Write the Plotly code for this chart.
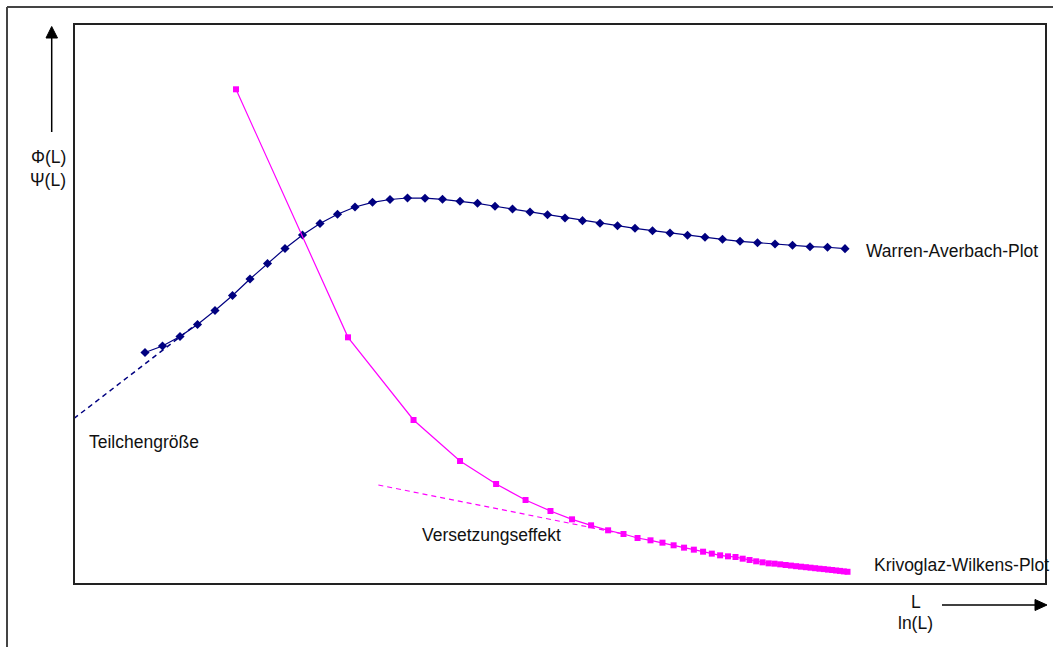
import numpy as np
import plotly.graph_objects as go

# ---------------- data ----------------
# Warren-Averbach plot: Phi(L) over L (linear x)
wa_L = list(range(1, 42))
wa_phi = [4.134, 4.250, 4.420, 4.634, 4.884, 5.152, 5.446, 5.723, 5.991, 6.232,
          6.438, 6.602, 6.732, 6.816, 6.866, 6.893, 6.889, 6.870, 6.834, 6.798,
          6.745, 6.696, 6.643, 6.595, 6.536, 6.488, 6.441, 6.398, 6.352, 6.309,
          6.268, 6.227, 6.191, 6.155, 6.120, 6.095, 6.071, 6.048, 6.023, 6.013,
          5.988]

# Krivoglaz-Wilkens plot: Psi(L) over ln(L)
kw_L = list(range(1, 45))
kw_psi = [8.834, 4.405, 2.929, 2.196, 1.786, 1.500, 1.304, 1.155, 1.048, 0.959,
          0.893, 0.821, 0.780, 0.738, 0.691, 0.649, 0.613, 0.577, 0.542, 0.512,
          0.494, 0.482, 0.452, 0.429, 0.405, 0.387, 0.369, 0.363, 0.351, 0.339,
          0.329, 0.318, 0.309, 0.300, 0.291, 0.282, 0.273, 0.266, 0.257, 0.250,
          0.241, 0.234, 0.225, 0.218]

# tangent lines
tg_size_x = [-3.06, 4.14]      # Teilchengroesse (in L)
tg_size_y = [2.955, 4.688]
tg_disl_x = [0.881, 2.407]     # Versetzungseffekt (in ln L)
tg_disl_y = [1.768, 0.888]

# ---------------- layout helpers ----------------
W, H = 1053, 647
ML, MR, MT, MB = 74, 7, 24, 63
PW, PH = W - ML - MR, H - MT - MB


def px(x):
    return (x - ML) / PW


def py(y):
    return (H - MB - y) / PH


NAVY = "#000080"
MAG = "#FF00FF"
FONT = "Liberation Sans, Arial, sans-serif"

fig = go.Figure()

fig.add_trace(go.Scatter(x=tg_size_x, y=tg_size_y, mode="lines",
                         line=dict(color=NAVY, width=1.5, dash="5px,4px"),
                         xaxis="x", yaxis="y", hoverinfo="skip"))
fig.add_trace(go.Scatter(x=tg_disl_x, y=tg_disl_y, mode="lines",
                         line=dict(color=MAG, width=1.2, dash="5px,4px"),
                         xaxis="x2", yaxis="y", hoverinfo="skip"))

fig.add_trace(go.Scatter(x=wa_L, y=wa_phi, mode="lines+markers",
                         line=dict(color=NAVY, width=1.2),
                         marker=dict(symbol="diamond", size=7, color=NAVY),
                         xaxis="x", yaxis="y", name="Warren-Averbach-Plot"))
fig.add_trace(go.Scatter(x=np.log(kw_L), y=kw_psi, mode="lines+markers",
                         line=dict(color=MAG, width=1.2),
                         marker=dict(symbol="square", size=6, color=MAG),
                         xaxis="x2", yaxis="y", name="Krivoglaz-Wilkens-Plot"))

shapes = [
    # plot frame
    dict(type="rect", xref="paper", yref="paper", x0=0, y0=0, x1=1, y1=1,
         line=dict(color="#222222", width=2)),
    # outer frame (left & top)
    dict(type="line", xref="paper", yref="paper", x0=px(7), x1=px(7),
         y0=py(7), y1=py(660), line=dict(color="#444444", width=2)),
    dict(type="line", xref="paper", yref="paper", x0=px(7), x1=px(1060),
         y0=py(7), y1=py(7), line=dict(color="#444444", width=2)),
    # y arrow
    dict(type="line", xref="paper", yref="paper", x0=px(51.7), x1=px(51.7),
         y0=py(132), y1=py(37), line=dict(color="black", width=1.5)),
    dict(type="path", xref="paper", yref="paper",
         path=f"M {px(46)} {py(38)} L {px(57.5)} {py(38)} L {px(51.7)} {py(26.5)} Z",
         fillcolor="black", line=dict(color="black", width=1)),
    # x arrow
    dict(type="line", xref="paper", yref="paper", x0=px(942), x1=px(1036),
         y0=py(605), y1=py(605), line=dict(color="black", width=1.5)),
    dict(type="path", xref="paper", yref="paper",
         path=f"M {px(1035)} {py(599.5)} L {px(1035)} {py(610.5)} L {px(1047)} {py(605)} Z",
         fillcolor="black", line=dict(color="black", width=1)),
]


def label(text, x, y, xanchor="left"):
    return dict(text=text, xref="paper", yref="paper", x=px(x), y=py(y),
                xanchor=xanchor, yanchor="middle", showarrow=False,
                font=dict(family=FONT, size=17.5, color="#111111"))


annotations = [
    label("Warren-Averbach-Plot", 864, 250.7),
    label("Krivoglaz-Wilkens-Plot", 872, 565),
    label("Teilchengröße", 86.5, 441.7),
    label("Versetzungseffekt", 420, 535),
    label("Φ(L)", 67.5, 156.7, "right"),
    label("Ψ(L)", 67.5, 180, "right"),
    label("L", 916, 601.7, "center"),
    label("ln(L)", 915.7, 623.3, "center"),
]

fig.update_layout(
    width=W, height=H,
    margin=dict(l=ML, r=MR, t=MT, b=MB, pad=0),
    paper_bgcolor="white", plot_bgcolor="white",
    showlegend=False,
    xaxis=dict(range=[-3.057, 52.486], visible=False, fixedrange=True),
    xaxis2=dict(range=[-1.0025, 5.0124], visible=False, overlaying="x",
                fixedrange=True),
    yaxis=dict(range=[0, 10], visible=False, fixedrange=True),
    shapes=shapes,
    annotations=annotations,
)

fig.write_html("out.html")
